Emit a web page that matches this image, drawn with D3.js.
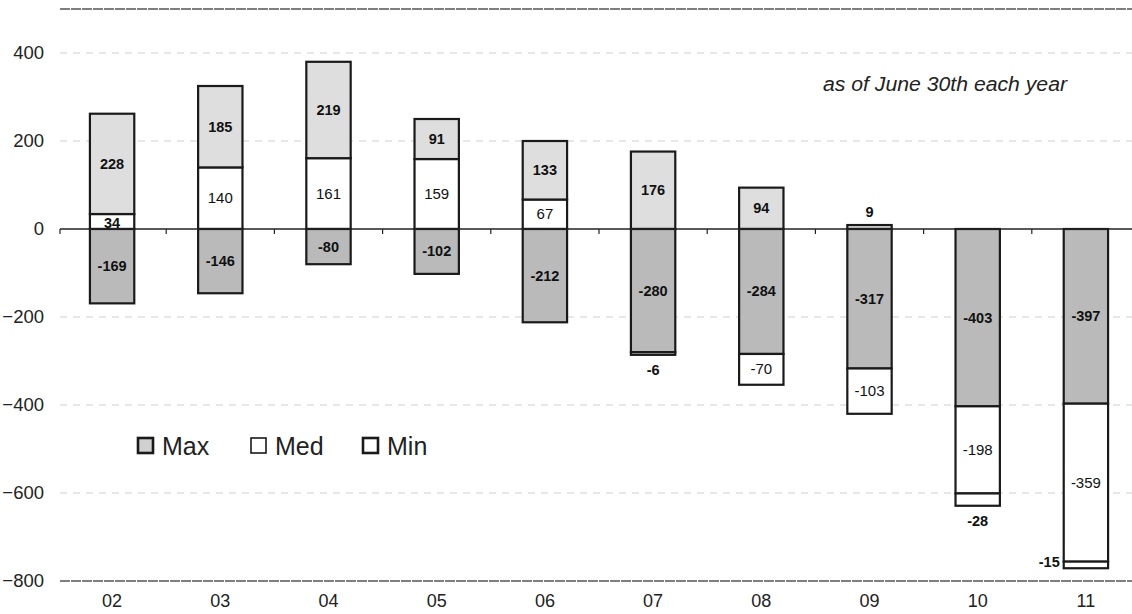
<!DOCTYPE html>
<html>
<head>
<meta charset="utf-8">
<script src="https://cdn.jsdelivr.net/npm/d3@7"></script>
<style>
  html, body { margin: 0; padding: 0; background: #fff; }
  svg { display: block; font-family: "Liberation Sans", Arial, sans-serif; }
</style>
</head>
<body>
<svg id="chart" width="1132" height="614"></svg>
<script>
// ---- data ----
const years = ["02","03","04","05","06","07","08","09","10","11"];
// positive part (bottom → top)
const medPos = [34, 140, 161, 159, 67, 0, 0, 0, 0, 0];
const maxPos = [228, 185, 219, 91, 133, 176, 94, 9, 0, 0];
// negative part (zero → down)
const maxNeg = [-169, -146, -80, -102, -212, -280, -284, -317, -403, -397];
const medNeg = [0, 0, 0, 0, 0, -6, -70, -103, -198, -359];
const minNeg = [0, 0, 0, 0, 0, 0, 0, 0, -28, -15];
const yTicks = [400, 200, 0, -200, -400, -600, -800];
const legendLabels = ["Max", "Med", "Min"];
const note = "as of June 30th each year";

// ---- layout ----
const svg = d3.select("#chart");
const plotLeft = 58, plotRight = 1140;
const x = d3.scaleBand().domain(years).range([plotLeft, plotRight]).paddingInner(0.59).paddingOuter(0.295);
const y = d3.scaleLinear().domain([-800, 500]).range([581, 9]);

// gridlines
svg.append("g").selectAll("line").data([400, 200, -200, -400, -600]).join("line")
  .attr("x1", 60).attr("x2", 1132)
  .attr("y1", d => y(d)).attr("y2", d => y(d))
  .attr("stroke", "#cfcfcf").attr("stroke-width", 1).attr("stroke-dasharray", "7,6");
// top & bottom frame lines
svg.append("g").selectAll("line").data([500, -800]).join("line")
  .attr("x1", 60).attr("x2", 1132)
  .attr("y1", d => y(d)).attr("y2", d => y(d))
  .attr("stroke", "#555").attr("stroke-width", 1.3).attr("stroke-dasharray", "10,1");

// y axis labels
const yAxis = d3.axisLeft(y).tickValues(yTicks).tickSize(0).tickPadding(0);
const gy = svg.append("g").attr("transform", "translate(44,0)").call(yAxis);
gy.select(".domain").remove();
gy.selectAll("text").attr("font-size", 18.5).attr("fill", "#222")
  .attr("font-family", "'Liberation Sans', Arial, sans-serif");

// x axis labels
const xAxis = d3.axisBottom(x).tickSize(0).tickPadding(0);
const gx = svg.append("g").attr("transform", "translate(0,594)").call(xAxis);
gx.select(".domain").remove();
gx.selectAll("text").attr("font-size", 18).attr("fill", "#222")
  .attr("font-family", "'Liberation Sans', Arial, sans-serif");

// build segments
const segs = [];
years.forEach((yr, i) => {
  let top = 0;
  if (medPos[i]) { segs.push({yr, y0: top, y1: top + medPos[i], v: medPos[i], kind: "medPos"}); top += medPos[i]; }
  if (maxPos[i]) { segs.push({yr, y0: top, y1: top + maxPos[i], v: maxPos[i], kind: "maxPos"}); top += maxPos[i]; }
  let bot = 0;
  if (maxNeg[i]) { segs.push({yr, y0: bot, y1: bot + maxNeg[i], v: maxNeg[i], kind: "maxNeg"}); bot += maxNeg[i]; }
  if (medNeg[i]) { segs.push({yr, y0: bot, y1: bot + medNeg[i], v: medNeg[i], kind: "medNeg"}); bot += medNeg[i]; }
  if (minNeg[i]) { segs.push({yr, y0: bot, y1: bot + minNeg[i], v: minNeg[i], kind: "minNeg"}); bot += minNeg[i]; }
});
const fills = { medPos: "#ffffff", maxPos: "#dedede", maxNeg: "#bababa", medNeg: "#ffffff", minNeg: "#ffffff" };

svg.append("g").selectAll("rect").data(segs).join("rect")
  .attr("x", d => x(d.yr))
  .attr("width", x.bandwidth())
  .attr("y", d => Math.min(y(d.y0), y(d.y1)))
  .attr("height", d => Math.abs(y(d.y0) - y(d.y1)))
  .attr("fill", d => fills[d.kind])
  .attr("stroke", "#1a1a1a").attr("stroke-width", 2.2);

// zero line
svg.append("line").attr("x1", 60).attr("x2", 1132).attr("y1", y(0)).attr("y2", y(0))
  .attr("stroke", "#222").attr("stroke-width", 1.4);
// category ticks
const bounds = years.slice(1).map(yr => x(yr) - x.step() * x.paddingInner() / 2);
svg.append("g").selectAll("line").data([plotLeft + 2, ...bounds]).join("line")
  .attr("x1", d => d).attr("x2", d => d).attr("y1", y(0)).attr("y2", y(0) + 5)
  .attr("stroke", "#222").attr("stroke-width", 1.2);

// labels
const small = d => Math.abs(y(d.y0) - y(d.y1)) < 16;
const lab = svg.append("g").attr("font-family", "'Liberation Sans', Arial, sans-serif");
segs.forEach(d => {
  const cx = x(d.yr) + x.bandwidth() / 2;
  const bold = d.kind === "maxPos" || d.kind === "maxNeg" || small(d);
  let tx = cx, ty = (y(d.y0) + y(d.y1)) / 2 + 5, anchor = "middle";
  if (small(d) && d.kind === "medPos") { ty = (y(d.y0) + y(d.y1)) / 2 + 6; }
  else if (small(d) && d.kind === "maxPos") { ty = y(d.y1) - 8; }
  else if (small(d) && d.yr === "11") { tx = x(d.yr) - 4; ty = y(d.y1) - 1; anchor = "end"; }
  else if (small(d)) { ty = y(d.y1) + 20; }
  lab.append("text").attr("x", tx).attr("y", ty).attr("text-anchor", anchor)
    .attr("font-size", bold ? 14.5 : 15).attr("font-weight", bold ? "bold" : "normal")
    .attr("fill", "#111").text(d.v);
});

// legend
const legX = [138, 251, 363];
const legFill = ["#d0d0d0", "#ffffff", "#ffffff"];
const legStroke = [2.6, 1.6, 2.6];
const leg = svg.append("g");
legendLabels.forEach((t, i) => {
  leg.append("rect").attr("x", legX[i]).attr("y", 438).attr("width", 15).attr("height", 15)
    .attr("fill", legFill[i]).attr("stroke", "#1a1a1a").attr("stroke-width", legStroke[i]);
  leg.append("text").attr("x", legX[i] + 24).attr("y", 455).attr("font-size", 25)
    .attr("fill", "#222").text(t);
});

// note
svg.append("text").attr("x", 823).attr("y", 91)
  .attr("font-size", 20).attr("font-style", "italic").attr("fill", "#222")
  .attr("textLength", 244).attr("lengthAdjust", "spacingAndGlyphs").text(note);
</script>
</body>
</html>
